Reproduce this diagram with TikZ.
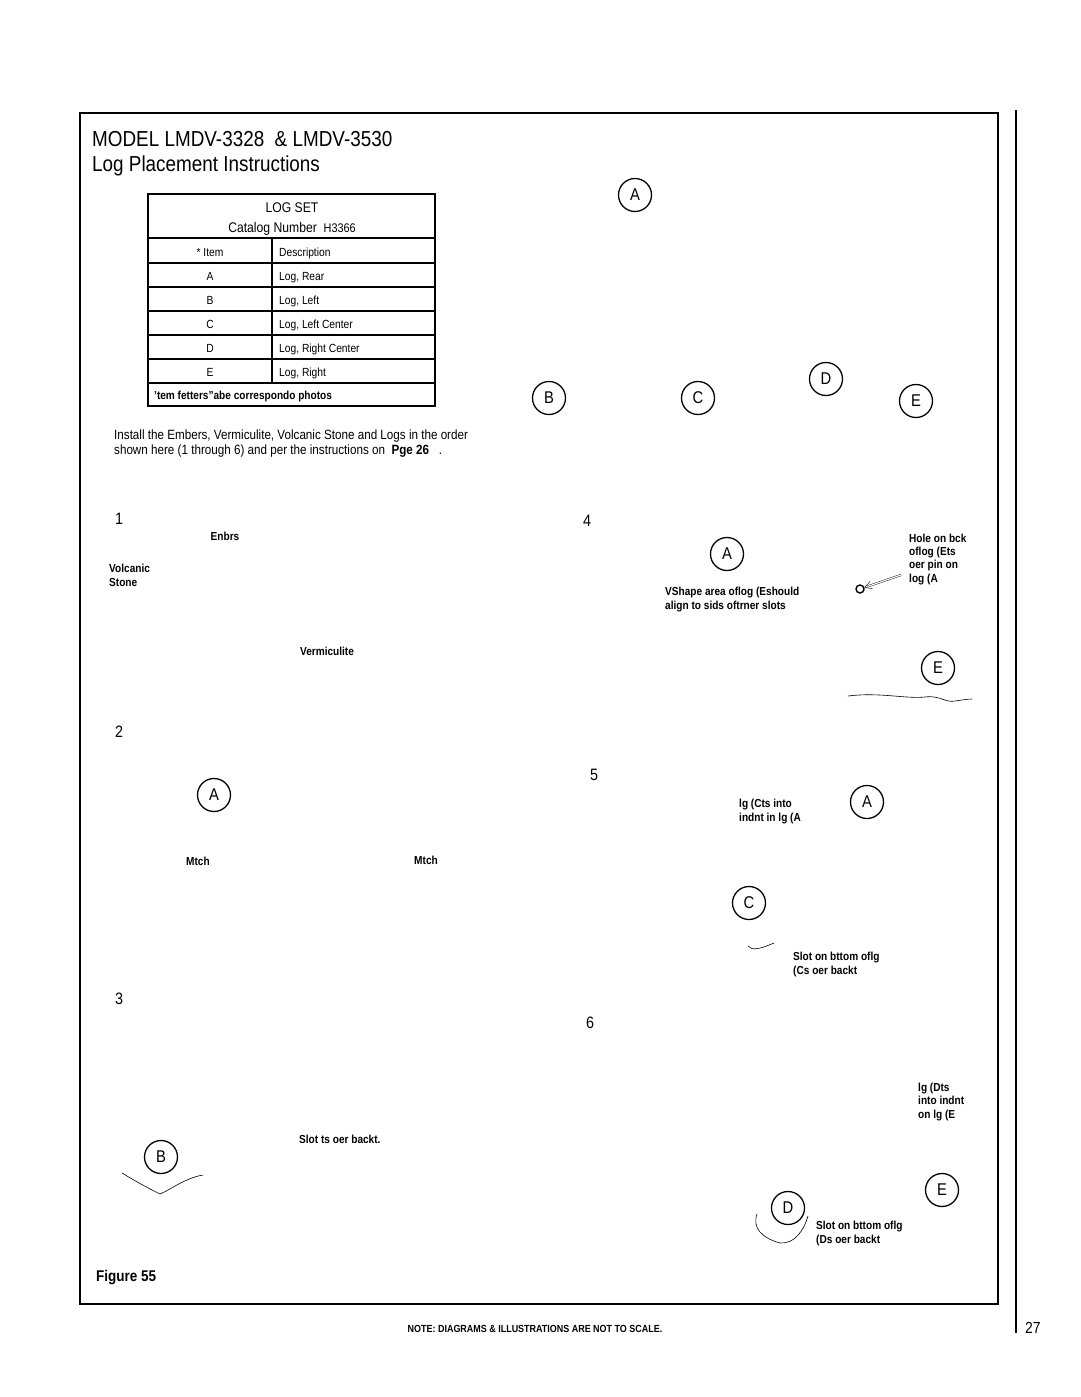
\documentclass[tikz,border=0pt]{standalone}
\usepackage{fontspec}
\setmainfont{Liberation Sans}[FakeStretch=0.87]
\usetikzlibrary{arrows.meta}
\begin{document}
\begin{tikzpicture}[x=1pt,y=-1pt,
  lbl/.style={circle,draw,line width=1.3pt,minimum size=33pt,inner sep=0pt,font={\fontsize{17}{20}\selectfont}},
  stepnum/.style={anchor=base west,inner sep=0pt,font={\fontsize{16.5}{20}\selectfont}},
  note/.style={anchor=base west,inner sep=0pt,align=left,font={\bfseries\fontsize{11.6}{13.3}\selectfont}},
  cell/.style={anchor=base west,inner sep=0pt,font={\fontsize{11.8}{13}\selectfont}},
  cellc/.style={anchor=base,inner sep=0pt,font={\fontsize{11.8}{13}\selectfont}},
  tbl/.style={line width=1.6pt},
  sketch/.style={line width=0.6pt,line cap=round}]
\useasboundingbox (0,0) rectangle (1080,1397);
% frame and page rule
\draw[line width=1.8pt] (80,113) rectangle (998,1304);
\draw[line width=1.8pt] (1016,110) -- (1016,1333);
\node[anchor=base west,inner sep=0pt,font={\fontsize{16}{18}\selectfont}] (pg) at (1025,1333) {27};
\node[anchor=base,inner sep=0pt,font={\bfseries\fontsize{10.3}{12}\selectfont}] (scale) at (535,1332) {NOTE: DIAGRAMS \& ILLUSTRATIONS ARE NOT TO SCALE.};
% title
\node[anchor=base west,inner sep=0pt,font={\fontsize{21.7}{24}\selectfont}] (t1) at (92,146) {MODEL LMDV-3328\ \ \& LMDV-3530};
\node[anchor=base west,inner sep=0pt,font={\fontsize{21.7}{24}\selectfont}] (t2) at (92,171) {Log Placement Instructions};
% table
\draw[tbl] (148,194) rectangle (435,406);
\draw[tbl] (148,238) -- (435,238);
\foreach \yy in {263,287,311,335,359,383} \draw[tbl] (148,\yy) -- (435,\yy);
\draw[tbl] (272,238) -- (272,383);
\node[anchor=base,inner sep=0pt,font={\fontsize{14}{16}\selectfont}] (ls) at (292,212) {LOG SET};
\node[anchor=base,inner sep=0pt,font={\fontsize{14}{16}\selectfont}] (cn) at (292,232) {Catalog Number\ \ {\fontsize{12.5}{14}\selectfont H3366}};
\node[cellc] (h1) at (210,256) {* Item};
\node[cell] (h2) at (279,256) {Description};
\node[cellc] (ia) at (210,280) {A};  \node[cell] (da) at (279,280) {Log, Rear};
\node[cellc] (ib) at (210,304) {B};  \node[cell] (db) at (279,304) {Log, Left};
\node[cellc] (ic) at (210,328) {C};  \node[cell] (dc) at (279,328) {Log, Left Center};
\node[cellc] (id) at (210,352) {D};  \node[cell] (dd) at (279,352) {Log, Right Center};
\node[cellc] (ie) at (210,376) {E};  \node[cell] (de) at (279,376) {Log, Right};
\node[note] (foot) at (154,399) {'tem fetters"abe correspondo photos};
% intro paragraph
\node[anchor=base west,inner sep=0pt,align=left,font={\fontsize{13.4}{14.6}\selectfont}] (intro) at (114,454)
  {Install the Embers, Vermiculite, Volcanic Stone and Logs in the order\\
   shown here (1 through 6) and per the instructions on\ \ {\bfseries Pge 26}\ \ \ .};
% overview circles
\node[lbl] (oA) at (635,195) {A};
\node[lbl] (oB) at (549,398) {B};
\node[lbl] (oC) at (698,398) {C};
\node[lbl] (oD) at (826,379) {D};
\node[lbl] (oE) at (916,401) {E};
% step 1
\node[stepnum] (s1) at (115,524) {1};
\node[note,anchor=base] (emb) at (225,540) {Enbrs};
\node[note] (vs) at (109,586) {Volcanic\\Stone};
\node[note,anchor=base] (verm) at (327,655) {Vermiculite};
% step 2
\node[stepnum] (s2) at (115,737) {2};
\node[lbl] (a2) at (214,795) {A};
\node[note,anchor=base] (n1) at (198,865) {Mtch};
\node[note,anchor=base] (n2) at (426,864) {Mtch};
% step 3
\node[stepnum] (s3) at (115,1004) {3};
\node[lbl] (b3) at (161,1157) {B};
\node[note] (slot3) at (299,1143) {Slot ts oer backt.};
\draw[sketch] (122,1173) .. controls (140,1184) and (152,1190) .. (160,1194)
  .. controls (170,1190) and (185,1178) .. (203,1175);
\node[anchor=base west,inner sep=0pt,font={\bfseries\fontsize{15.5}{17}\selectfont}] (fig) at (96,1281) {Figure 55};
% step 4
\node[stepnum] (s4) at (583,526) {4};
\node[lbl] (a4) at (727,554) {A};
\node[note] (vsh) at (665,609) {VShape area oflog (Eshould\\align to sids oftrner slots};
\node[note] (hole) at (909,582) {Hole on bck\\oflog (Ets\\oer pin on\\log (A};
\node[circle,draw,line width=1.4pt,minimum size=8pt,inner sep=0pt] (pin) at (860,589) {};
\coordinate (pinarrow) at (901,575);
\draw[double,double distance=1.2pt,line width=0.4pt,-{Straight Barb[length=7pt,width=8pt]}] (pinarrow) -- (pin);
\node[lbl] (e4) at (938,668) {E};
\draw[sketch] (848,696) .. controls (880,692) and (905,699) .. (925,697)
  .. controls (940,695) and (945,703) .. (955,701) .. controls (962,700) and (968,699) .. (972,699);
% step 5
\node[stepnum] (s5) at (590,780) {5};
\node[note] (c5t) at (739,821) {lg (Cts into\\indnt in lg (A};
\node[lbl] (a5) at (867,802) {A};
\node[lbl] (c5) at (749,903) {C};
\draw[sketch] (748,946) .. controls (752,951) and (760,949) .. (774,943);
\node[note] (slot5) at (793,974) {Slot on bttom oflg\\(Cs oer backt};
% step 6
\node[stepnum] (s6) at (586,1028) {6};
\node[note] (d6t) at (918,1118) {lg (Dts\\into indnt\\on lg (E};
\node[lbl] (e6) at (942,1190) {E};
\node[lbl] (d6) at (788,1208) {D};
\draw[sketch] (757,1214) .. controls (752,1228) and (762,1238) .. (780,1243)
  .. controls (795,1244) and (804,1230) .. (808,1216);
\node[note] (slot6) at (816,1243) {Slot on bttom oflg\\(Ds oer backt};
\end{tikzpicture}
\end{document}
